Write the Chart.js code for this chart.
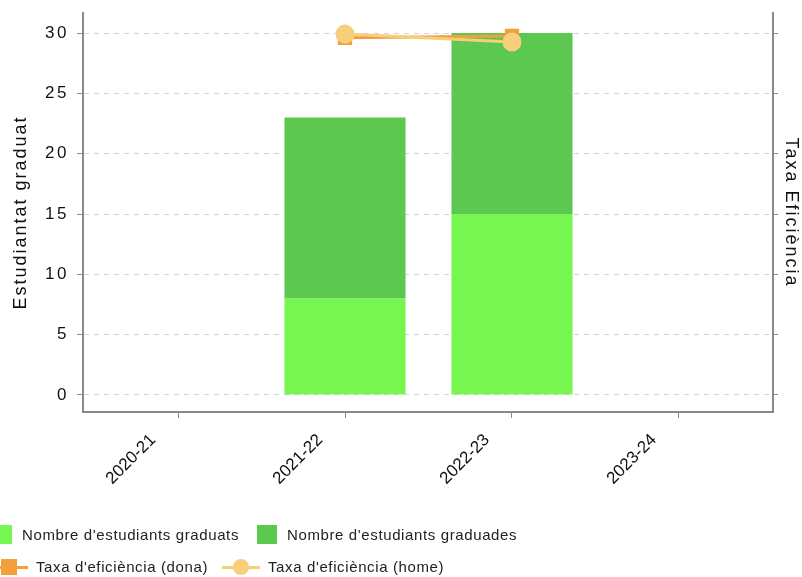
<!DOCTYPE html>
<html>
<head>
<meta charset="utf-8">
<script src="https://cdn.jsdelivr.net/npm/chart.js@4/dist/chart.umd.min.js"></script>
<style>
  html, body { margin: 0; padding: 0; background: #fff; }
  #wrap { position: relative; width: 802px; height: 577px; overflow: hidden; }
  #legend { position: absolute; left: 0; top: 520px; font: 15px "Liberation Sans", Arial, sans-serif; letter-spacing: 0.62px; color: #222; }
  .row { position: absolute; white-space: nowrap; height: 20px; line-height: 20px; }
  .item { position: absolute; top: 0; }
  .box { position: absolute; top: 0; width: 20px; height: 19px; }
</style>
</head>
<body>
<div id="wrap">
  <canvas id="chart" width="802" height="577"></canvas>
  <div id="legend"></div>
</div>
<script>
// cursos
const categories = ['2020-21', '2021-22', '2022-23', '2023-24'];
// estudiantat graduat (barres apilades)
const graduats = [null, 8, 15, null];
const graduades = [null, 15, 15, null];
// taxa d'eficiència (%), eix dret
const taxaDona = [null, 98.7, 99.2, null];
const taxaHome = [null, 99.7, 97.5, null];
const leftTicks = [0, 5, 10, 15, 20, 25, 30];

const colors = {
  graduats: '#78f650',
  graduades: '#5dc850',
  dona: '#f2a03c',
  home: '#f8ce7a'
};

const toPoints = arr => arr.map((v, i) => (v === null ? null : { x: i, y: v })).filter(p => p);

const font = { family: '"Liberation Sans", Arial, sans-serif' };
const axisGray = '#8a8a8a';

// el text dels eixos verticals és més espaiat a l'original
const spacing = (fn, ctx, sp) => function (...args) {
  const prev = ctx.letterSpacing;
  ctx.letterSpacing = sp;
  fn.apply(this, args);
  ctx.letterSpacing = prev;
};
const spacedAxes = {
  id: 'spacedAxes',
  beforeDraw(chart) {
    ['y', 'y1'].forEach(id => {
      const s = chart.scales[id];
      if (!s || s._spaced) return;
      s.drawLabels = spacing(s.drawLabels, chart.ctx, '2.5px');
      s.drawTitle = spacing(s.drawTitle, chart.ctx, '2px');
      s._spaced = true;
    });
  }
};

const fitVertical = w => s => { s.width = w; s.paddingTop = 0; s.paddingBottom = 0; };

new Chart(document.getElementById('chart'), {
  data: {
    datasets: [
      {
        type: 'line',
        label: "Taxa d'eficiència (home)",
        data: toPoints(taxaHome),
        yAxisID: 'y1',
        borderColor: colors.home,
        backgroundColor: colors.home,
        borderWidth: 3,
        pointStyle: 'circle',
        pointRadius: 8,
        order: 0
      },
      {
        type: 'line',
        label: "Taxa d'eficiència (dona)",
        data: toPoints(taxaDona),
        yAxisID: 'y1',
        borderColor: colors.dona,
        backgroundColor: colors.dona,
        borderWidth: 3,
        pointStyle: 'rect',
        pointRadius: 8,
        order: 1
      },
      {
        type: 'bar',
        label: "Nombre d'estudiants graduats",
        data: toPoints(graduats),
        backgroundColor: colors.graduats,
        stack: 's',
        categoryPercentage: 1,
        barPercentage: 0.725,
        order: 2
      },
      {
        type: 'bar',
        label: "Nombre d'estudiants graduades",
        data: toPoints(graduades),
        backgroundColor: colors.graduades,
        stack: 's',
        categoryPercentage: 1,
        barPercentage: 0.725,
        order: 2
      }
    ]
  },
  plugins: [spacedAxes],
  options: {
    responsive: false,
    animation: false,
    layout: { padding: { top: 13, left: 0, right: 0, bottom: 0 } },
    plugins: { legend: { display: false }, tooltip: { enabled: false } },
    scales: {
      x: {
        type: 'linear',
        offset: false,
        min: -0.569,
        max: 3.563,
        afterBuildTicks: s => { s.ticks = categories.map((_, i) => ({ value: i })); },
        afterFit: s => { s.height = 165; },
        ticks: {
          callback: v => categories[v] ?? '',
          maxRotation: 45,
          minRotation: 45,
          color: '#111',
          padding: 12,
          labelOffset: -25,
          font: { ...font, size: 17 }
        },
        grid: { offset: false, drawOnChartArea: false, drawTicks: true, tickLength: 6, tickColor: axisGray },
        border: { color: axisGray, width: 2 }
      },
      y: {
        position: 'left',
        stacked: true,
        min: -1.41,
        max: 31.66,
        afterBuildTicks: s => { s.ticks = leftTicks.map(v => ({ value: v })); },
        afterFit: fitVertical(83),
        ticks: { color: '#111', padding: 8, font: { ...font, size: 17 } },
        title: { display: true, text: 'Estudiantat graduat', color: '#111', padding: { top: 10, bottom: 0 }, font: { ...font, size: 18 } },
        grid: { color: '#d2d2d2', tickColor: axisGray, tickLength: 6, tickBorderDash: [] },
        border: { color: axisGray, width: 2, dash: [5, 5] }
      },
      y1: {
        position: 'right',
        min: -1.41 * 100 / 30,
        max: 31.66 * 100 / 30,
        afterBuildTicks: s => { s.ticks = leftTicks.map(v => ({ value: v * 100 / 30 })); },
        afterFit: fitVertical(29),
        ticks: { callback: () => '', padding: 0 },
        title: { display: true, text: 'Taxa Eficiència', color: '#111', padding: 0, font: { ...font, size: 18 } },
        grid: { drawOnChartArea: false, tickColor: axisGray, tickLength: 5 },
        border: { color: axisGray, width: 2 }
      }
    }
  }
});

// llegenda
const legendItems = [
  { row: 0, kind: 'box', color: colors.graduats, label: "Nombre d'estudiants graduats", x: -8, tx: 22 },
  { row: 0, kind: 'box', color: colors.graduades, label: "Nombre d'estudiants graduades", x: 257, tx: 287 },
  { row: 1, kind: 'rect', color: colors.dona, label: "Taxa d'eficiència (dona)", x: -10, tx: 36 },
  { row: 1, kind: 'circle', color: colors.home, label: "Taxa d'eficiència (home)", x: 222, tx: 268 }
];
const legend = document.getElementById('legend');
legendItems.forEach(it => {
  const row = document.createElement('div');
  row.className = 'row';
  row.style.top = (it.row * 32 + 5) + 'px';
  row.style.left = '0px';
  let sym = '';
  if (it.kind === 'box') {
    sym = `<span class="box" style="left:${it.x}px;background:${it.color}"></span>`;
  } else {
    const line = `<span style="position:absolute;left:${it.x}px;top:9px;width:38px;height:3px;background:${it.color}"></span>`;
    const r = it.kind === 'circle' ? '50%' : '0';
    const mk = `<span style="position:absolute;left:${it.x + 11}px;top:2px;width:16px;height:16px;border-radius:${r};background:${it.color}"></span>`;
    sym = line + mk;
  }
  row.innerHTML = sym + `<span class="item" style="left:${it.tx}px">${it.label}</span>`;
  legend.appendChild(row);
});
</script>
</body>
</html>
